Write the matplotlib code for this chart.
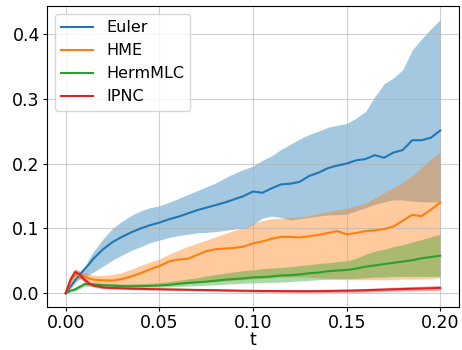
import matplotlib
matplotlib.use("Agg")
import matplotlib.pyplot as plt
import numpy as np

# tempo (passo fino no início para capturar o pico)
t = [0, 0.0025, 0.005, 0.0075, 0.01, 0.0125, 0.015,
     0.02, 0.025, 0.03, 0.035, 0.04, 0.045, 0.05,
     0.055, 0.06, 0.065, 0.07, 0.075, 0.08, 0.085, 0.09, 0.095, 0.1,
     0.105, 0.11, 0.115, 0.12, 0.125, 0.13, 0.135, 0.14, 0.145, 0.15,
     0.155, 0.16, 0.165, 0.17, 0.175, 0.18, 0.185, 0.19, 0.195, 0.2]

# Euler
euler_media = [0, 0.010, 0.020, 0.029, 0.037, 0.045, 0.054,
               0.068, 0.079, 0.087, 0.094, 0.100, 0.105, 0.109,
               0.114, 0.118, 0.123, 0.128, 0.132, 0.136, 0.140, 0.145, 0.150, 0.157,
               0.155, 0.162, 0.168, 0.169, 0.172, 0.181, 0.186, 0.193, 0.197, 0.200,
               0.205, 0.207, 0.213, 0.209, 0.217, 0.221, 0.236, 0.236, 0.240, 0.251]
euler_sup = [0, 0.012, 0.022, 0.033, 0.040, 0.054, 0.065,
             0.084, 0.100, 0.111, 0.120, 0.127, 0.132, 0.135,
             0.140, 0.146, 0.152, 0.158, 0.164, 0.170, 0.178, 0.185, 0.191, 0.196,
             0.205, 0.212, 0.222, 0.230, 0.238, 0.245, 0.250, 0.256, 0.259, 0.262,
             0.270, 0.280, 0.303, 0.323, 0.332, 0.345, 0.375, 0.392, 0.408, 0.422]
euler_inf = [0, 0.008, 0.016, 0.022, 0.026, 0.029, 0.033,
             0.042, 0.051, 0.059, 0.066, 0.072, 0.078, 0.082,
             0.086, 0.089, 0.091, 0.093, 0.094, 0.095, 0.097, 0.099, 0.100, 0.106,
             0.116, 0.119, 0.117, 0.113, 0.115, 0.117, 0.119, 0.121, 0.121, 0.122,
             0.127, 0.132, 0.137, 0.141, 0.144, 0.144, 0.142, 0.141, 0.141, 0.141]

# HME
hme_media = [0, 0.018, 0.029, 0.028, 0.026, 0.023, 0.021,
             0.020, 0.0197, 0.022, 0.026, 0.031, 0.037, 0.042,
             0.049, 0.052, 0.053, 0.059, 0.065, 0.068, 0.069, 0.070, 0.072, 0.077,
             0.080, 0.084, 0.087, 0.087, 0.086, 0.088, 0.090, 0.093, 0.096, 0.091,
             0.093, 0.096, 0.097, 0.099, 0.103, 0.112, 0.121, 0.119, 0.129, 0.140]
hme_sup = [0, 0.022, 0.035, 0.034, 0.032, 0.030, 0.028,
           0.0275, 0.029, 0.032, 0.037, 0.043, 0.048, 0.053,
           0.060, 0.066, 0.072, 0.077, 0.082, 0.087, 0.092, 0.097, 0.101, 0.108,
           0.112, 0.115, 0.116, 0.117, 0.118, 0.120, 0.123, 0.126, 0.129, 0.131,
           0.135, 0.139, 0.147, 0.155, 0.163, 0.171, 0.181, 0.194, 0.207, 0.218]
hme_inf = [0, 0.014, 0.024, 0.022, 0.020, 0.017, 0.015,
           0.014, 0.013, 0.012, 0.012, 0.012, 0.012, 0.012,
           0.013, 0.014, 0.015, 0.016, 0.017, 0.018, 0.019, 0.020, 0.021, 0.022,
           0.023, 0.024, 0.025, 0.025, 0.025, 0.025, 0.024, 0.023, 0.022, 0.021,
           0.021, 0.021, 0.021, 0.021, 0.021, 0.022, 0.022, 0.022, 0.023, 0.024]

# HermMLC
herm_media = [0, 0.004, 0.006, 0.010, 0.014, 0.014, 0.0135,
              0.0125, 0.0118, 0.011, 0.0108, 0.011, 0.0115, 0.012,
              0.013, 0.0145, 0.016, 0.017, 0.018, 0.0195, 0.021, 0.022, 0.023, 0.0245,
              0.025, 0.026, 0.0275, 0.028, 0.029, 0.031, 0.032, 0.034, 0.035, 0.036,
              0.038, 0.041, 0.043, 0.045, 0.047, 0.049, 0.051, 0.054, 0.056, 0.058]
herm_sup = [0, 0.006, 0.009, 0.013, 0.017, 0.017, 0.0165,
            0.0155, 0.015, 0.0145, 0.0145, 0.015, 0.0155, 0.0165,
            0.018, 0.020, 0.022, 0.024, 0.027, 0.029, 0.031, 0.033, 0.035, 0.036,
            0.038, 0.039, 0.040, 0.041, 0.043, 0.044, 0.046, 0.047, 0.049, 0.050,
            0.054, 0.060, 0.065, 0.068, 0.072, 0.075, 0.079, 0.083, 0.087, 0.091]
herm_inf = [0, 0.002, 0.004, 0.007, 0.011, 0.011, 0.0105,
            0.0095, 0.009, 0.0085, 0.0083, 0.0085, 0.009, 0.0093,
            0.0098, 0.0105, 0.011, 0.0118, 0.0125, 0.013, 0.014, 0.0148, 0.0155, 0.016,
            0.0165, 0.017, 0.0172, 0.018, 0.019, 0.020, 0.021, 0.0215, 0.022, 0.0225,
            0.023, 0.024, 0.025, 0.025, 0.026, 0.026, 0.026, 0.026, 0.026, 0.026]

# IPNC
ipnc_media = [0, 0.021, 0.033, 0.029, 0.021, 0.015, 0.012,
              0.009, 0.0082, 0.0077, 0.0072, 0.0068, 0.0065, 0.0063,
              0.006, 0.0058, 0.0055, 0.0052, 0.005, 0.0048, 0.0045, 0.0042, 0.004, 0.0038,
              0.0036, 0.0035, 0.0034, 0.0033, 0.0033, 0.0033, 0.0034, 0.0036, 0.0038, 0.004,
              0.0043, 0.0047, 0.0052, 0.0057, 0.0062, 0.0066, 0.007, 0.0074, 0.0078, 0.0083]
ipnc_sup = [0, 0.025, 0.038, 0.034, 0.025, 0.018, 0.0145,
            0.011, 0.0098, 0.0092, 0.0087, 0.0083, 0.008, 0.0078,
            0.0075, 0.0073, 0.007, 0.0068, 0.0066, 0.0064, 0.0062, 0.006, 0.0058, 0.0056,
            0.0055, 0.0054, 0.0054, 0.0054, 0.0055, 0.0056, 0.0058, 0.006, 0.0063, 0.0066,
            0.007, 0.0075, 0.0081, 0.0088, 0.0094, 0.01, 0.0105, 0.011, 0.0115, 0.012]
ipnc_inf = [0, 0.017, 0.028, 0.024, 0.017, 0.012, 0.0095,
            0.007, 0.0066, 0.0062, 0.0057, 0.0053, 0.005, 0.0048,
            0.0045, 0.0043, 0.004, 0.0036, 0.0034, 0.0032, 0.0028, 0.0024, 0.0022, 0.002,
            0.0017, 0.0016, 0.0014, 0.0012, 0.0011, 0.0010, 0.0010, 0.0012, 0.0013, 0.0014,
            0.0016, 0.0019, 0.0023, 0.0026, 0.003, 0.0032, 0.0035, 0.0038, 0.0041, 0.0046]

metodos = ['Euler', 'HME', 'HermMLC', 'IPNC']
cores = ['tab:blue', 'tab:orange', 'tab:green', 'tab:red']
medias = [euler_media, hme_media, herm_media, ipnc_media]
superiores = [euler_sup, hme_sup, herm_sup, ipnc_sup]
inferiores = [euler_inf, hme_inf, herm_inf, ipnc_inf]

fig = plt.figure(figsize=(4.62, 3.5), dpi=100)
ax = fig.add_axes([0.1017, 0.1229, 0.8918, 0.8601])

#Curvas médias com faixa
for nome, cor, m, s, i in zip(metodos, cores, medias, superiores, inferiores):
    ax.plot(t, m, color=cor, linewidth=1.5, label=nome)
    ax.fill_between(t, i, s, color=cor, alpha=0.4, linewidth=0)

ax.set_xticks([0.0, 0.05, 0.1, 0.15, 0.2])
ax.set_xticklabels(['0.00', '0.05', '0.10', '0.15', '0.20'])
ax.set_yticks([0.0, 0.1, 0.2, 0.3, 0.4])
ax.tick_params(labelsize=12.5, length=2.7, pad=2.5)
ax.set_xlabel('t', fontsize=12.5, labelpad=-1)
ax.grid(True, alpha=0.6)
ax.legend(loc='upper left', fontsize=11.5)

plt.savefig('out.png', dpi=100)
